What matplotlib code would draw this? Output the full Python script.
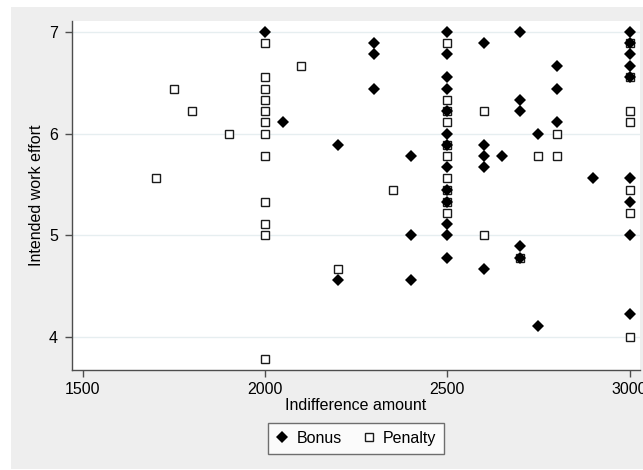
import matplotlib.pyplot as plt
from matplotlib.lines import Line2D
from matplotlib.patches import Rectangle

plt.rcParams['font.family'] = ['Liberation Sans', 'DejaVu Sans']

# bonus condition: indifference amount vs intended work effort
bonus_x = [2000, 2050, 2200, 2200, 2300, 2300, 2300, 2400, 2400, 2400,
           2500, 2500, 2500, 2500, 2500, 2500, 2500, 2500, 2500, 2500, 2500, 2500, 2500,
           2600, 2600, 2600, 2600, 2600, 2650,
           2700, 2700, 2700, 2700, 2700, 2750, 2750,
           2800, 2800, 2800, 2900,
           3000, 3000, 3000, 3000, 3000, 3000, 3000, 3000, 3000]
bonus_y = [7.0, 6.11, 5.89, 4.56, 6.89, 6.78, 6.44, 5.78, 5.0, 4.56,
           7.0, 6.78, 6.56, 6.44, 6.22, 6.0, 5.89, 5.67, 5.44, 5.33, 5.11, 5.0, 4.78,
           6.89, 5.89, 5.78, 5.67, 4.67, 5.78,
           7.0, 6.33, 6.22, 4.89, 4.78, 6.0, 4.11,
           6.67, 6.44, 6.11, 5.56,
           7.0, 6.89, 6.78, 6.67, 6.56, 5.56, 5.33, 5.0, 4.22]

# penalty condition
penalty_x = [1700, 1750, 1800, 1900,
             2000, 2000, 2000, 2000, 2000, 2000, 2000, 2000, 2000, 2000, 2000, 2000,
             2100, 2200, 2350,
             2500, 2500, 2500, 2500, 2500, 2500, 2500, 2500, 2500, 2500,
             2600, 2600, 2700, 2750, 2800, 2800,
             3000, 3000, 3000, 3000, 3000, 3000, 3000]
penalty_y = [5.56, 6.44, 6.22, 6.0,
             6.89, 6.56, 6.44, 6.33, 6.22, 6.11, 6.0, 5.78, 5.33, 5.11, 5.0, 3.78,
             6.67, 4.67, 5.44,
             6.89, 6.33, 6.22, 6.11, 5.89, 5.78, 5.56, 5.44, 5.33, 5.22,
             6.22, 5.0, 4.78, 5.78, 6.0, 5.78,
             6.89, 6.56, 6.22, 6.11, 5.44, 5.22, 4.0]

x_ticks = [1500, 2000, 2500, 3000]
y_ticks = [4, 5, 6, 7]

W, H = 643, 470
fig = plt.figure(figsize=(W / 100, H / 100), dpi=100)
fig.patch.set_facecolor('white')
# graph region
fig.patches.append(Rectangle((11 / W, 1 / H), (W - 11) / W, 462 / H,
                             transform=fig.transFigure, facecolor='#eeeeee',
                             edgecolor='none', zorder=-1))

ax = fig.add_axes([72 / W, 100 / H, 568 / W, 349 / H])
ax.set_facecolor('white')

ax.plot(penalty_x, penalty_y, linestyle='none', marker='s', markersize=5.4,
        markerfacecolor='white', markeredgecolor='#1a1a1a',
        markeredgewidth=1.0, zorder=3)
ax.plot(bonus_x, bonus_y, linestyle='none', marker='D', markersize=6.5,
        color='black', markeredgewidth=0, zorder=4)

ax.set_xlim(1470.6, 3028.5)
ax.set_ylim(3.673, 7.108)
ax.set_xticks(x_ticks)
ax.set_yticks(y_ticks)
ax.grid(axis='y', color='#e6eef0', linewidth=1.0, zorder=0)
ax.set_axisbelow(True)

for side in ['top', 'right']:
    ax.spines[side].set_visible(False)
for side in ['left', 'bottom']:
    ax.spines[side].set_color('#4d4d4d')
    ax.spines[side].set_linewidth(1.0)

ax.tick_params(axis='both', direction='out', length=5, width=1.0,
               color='#4d4d4d', labelsize=11.5, labelcolor='black')
ax.tick_params(axis='x', pad=4)
ax.tick_params(axis='y', pad=5)

ax.set_xlabel('Indifference amount', fontsize=11.5, labelpad=0)
ax.set_ylabel('Intended work effort', fontsize=11.5, labelpad=4)

handles = [
    Line2D([], [], linestyle='none', marker='D', markersize=6.5,
           color='black', markeredgewidth=0),
    Line2D([], [], linestyle='none', marker='s', markersize=5.4,
           markerfacecolor='white', markeredgecolor='#1a1a1a', markeredgewidth=1.0),
]
leg = fig.legend(handles, ['Bonus', 'Penalty'], loc='center',
                 bbox_to_anchor=(356 / W, (H - 438.5) / H), ncol=2,
                 fontsize=11.5, frameon=True, fancybox=False,
                 handlelength=0.8, handletextpad=0.5, columnspacing=1.3,
                 borderpad=0.5)
leg.get_frame().set_edgecolor('#4d4d4d')
leg.get_frame().set_linewidth(1.0)
leg.get_frame().set_facecolor('white')

fig.savefig('out.png', dpi=100)
